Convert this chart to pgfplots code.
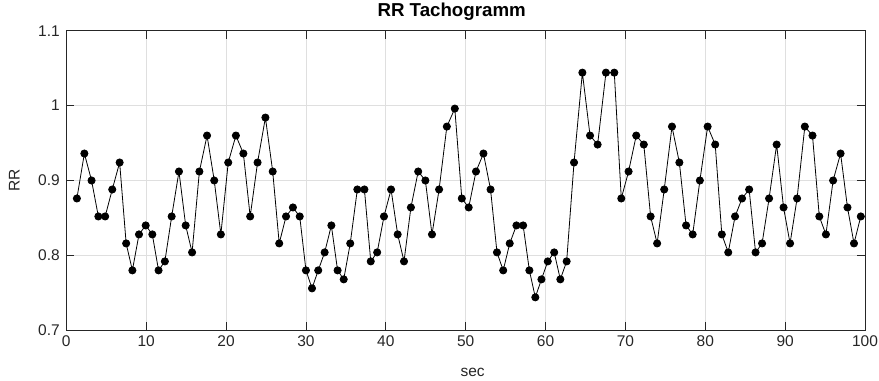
\documentclass[border=0pt]{standalone}
\usepackage{pgfplots}
\pgfplotsset{compat=1.18}
\usepackage{fontspec}
\setmainfont{Liberation Sans}
\definecolor{axc}{RGB}{38,38,38}
\definecolor{gridc}{RGB}{223,223,223}
\begin{document}
\begin{tikzpicture}
\begin{axis}[
  scale only axis, width=798.7pt, height=299.6pt,
  xmin=0, xmax=100, ymin=0.7, ymax=1.1,
  xtick={0,10,...,100}, ytick={0.7,0.8,0.9,1,1.1},
  yticklabels={0.7,0.8,0.9,1,1.1},
  grid=major, major grid style={gridc, line width=0.6pt},
  tick align=inside, major tick length=8pt,
  axis line style={axc, line width=0.8pt},
  tick style={axc, line width=0.8pt},
  ticklabel style={font=\fontsize{15.5}{18}\selectfont, text=axc},
  /pgf/number format/assume math mode=true,
  xticklabel style={yshift=-2pt},
  yticklabel style={xshift=-3pt},
  title={RR Tachogramm},
  title style={font=\fontsize{18.7}{21}\selectfont\bfseries, text=black, at={(axis description cs:0.5,1)}, anchor=center, yshift=13pt, xshift=-14pt},
  xlabel={sec}, ylabel={RR},
  label style={font=\fontsize{15.5}{18}\selectfont, text=axc},
  xlabel style={at={(axis description cs:0.5,0)}, anchor=center, yshift=-42pt, xshift=7pt},
  ylabel style={at={(axis description cs:0,0.5)}, anchor=center, yshift=52pt},
]
\addplot[black, line width=0.8pt, mark=*, mark size=3.6pt, mark options={fill=black}] coordinates {
(1.326,0.876) (2.262,0.936) (3.162,0.900) (4.014,0.852) (4.866,0.852)
(5.754,0.888) (6.678,0.924) (7.494,0.816) (8.274,0.780) (9.102,0.828)
(9.942,0.840) (10.77,0.828) (11.55,0.780) (12.342,0.792) (13.194,0.852)
(14.106,0.912) (14.946,0.840) (15.75,0.804) (16.662,0.912) (17.622,0.960)
(18.522,0.900) (19.35,0.828) (20.274,0.924) (21.234,0.960) (22.17,0.936)
(23.022,0.852) (23.946,0.924) (24.93,0.984) (25.842,0.912) (26.658,0.816)
(27.51,0.852) (28.374,0.864) (29.226,0.852) (30.006,0.780) (30.762,0.756)
(31.542,0.780) (32.346,0.804) (33.186,0.840) (33.966,0.780) (34.734,0.768)
(35.55,0.816) (36.438,0.888) (37.326,0.888) (38.118,0.792) (38.922,0.804)
(39.774,0.852) (40.662,0.888) (41.49,0.828) (42.282,0.792) (43.146,0.864)
(44.058,0.912) (44.958,0.900) (45.786,0.828) (46.674,0.888) (47.646,0.972)
(48.642,0.996) (49.518,0.876) (50.382,0.864) (51.294,0.912) (52.23,0.936)
(53.118,0.888) (53.922,0.804) (54.702,0.780) (55.518,0.816) (56.358,0.840)
(57.198,0.840) (57.978,0.780) (58.722,0.744) (59.49,0.768) (60.282,0.792)
(61.086,0.804) (61.854,0.768) (62.646,0.792) (63.57,0.924) (64.614,1.044)
(65.574,0.960) (66.522,0.948) (67.566,1.044) (68.61,1.044) (69.486,0.876)
(70.398,0.912) (71.358,0.960) (72.306,0.948) (73.158,0.852) (73.974,0.816)
(74.862,0.888) (75.834,0.972) (76.758,0.924) (77.598,0.840) (78.426,0.828)
(79.326,0.900) (80.298,0.972) (81.246,0.948) (82.074,0.828) (82.878,0.804)
(83.73,0.852) (84.606,0.876) (85.494,0.888) (86.298,0.804) (87.114,0.816)
(87.99,0.876) (88.938,0.948) (89.802,0.864) (90.618,0.816) (91.494,0.876)
(92.466,0.972) (93.426,0.960) (94.278,0.852) (95.106,0.828) (96.006,0.900)
(96.942,0.936) (97.806,0.864) (98.622,0.816) (99.474,0.852)
};
\end{axis}
\pgfresetboundingbox
\path ([xshift=-66.3pt,yshift=-50.7pt]current axis.south west) rectangle ([xshift=14pt,yshift=30.7pt]current axis.north east);
\end{tikzpicture}
\end{document}
